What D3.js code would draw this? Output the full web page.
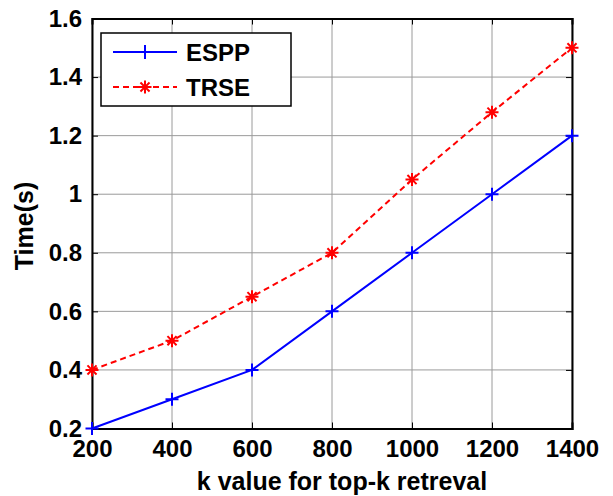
<!DOCTYPE html>
<html>
<head>
<meta charset="utf-8">
<script src="https://cdn.jsdelivr.net/npm/d3@7"></script>
<style>
  body { margin: 0; background: #fff; }
  text { font-family: "Liberation Sans", Arial, sans-serif; font-weight: bold; }
</style>
</head>
<body>
<div id="chart"></div>
<script>
// data
const kValues = [200, 400, 600, 800, 1000, 1200, 1400]
const esppTime = [0.2, 0.3, 0.4, 0.6, 0.8, 1.0, 1.2]
const trseTime = [0.4, 0.5, 0.65, 0.8, 1.05, 1.28, 1.5]
const yTicks = [0.2, 0.4, 0.6, 0.8, 1, 1.2, 1.4, 1.6]
const seriesNames = ['ESPP', 'TRSE']

const W = 613, H = 496
const m = {left: 92, right: 41, top: 18.5, bottom: 67.5}
const w = W - m.left - m.right
const h = H - m.top - m.bottom

const svg = d3.select('#chart')
    .append('svg')
    .attr('width', W)
    .attr('height', H)

const g = svg.append('g')
    .attr('transform', `translate(${m.left}, ${m.top})`)

// Scales
const x = d3.scaleLinear().domain([200, 1400]).range([0, w])
const y = d3.scaleLinear().domain([0.2, 1.6]).range([h, 0])

// Grid
g.append('g').selectAll('line')
    .data(kValues)
    .enter().append('line')
    .attr('x1', d => x(d)).attr('x2', d => x(d))
    .attr('y1', 0).attr('y2', h)
    .attr('stroke', '#9a9a9a').attr('stroke-width', 1)

g.append('g').selectAll('line')
    .data(yTicks)
    .enter().append('line')
    .attr('y1', d => y(d)).attr('y2', d => y(d))
    .attr('x1', 0).attr('x2', w)
    .attr('stroke', '#9a9a9a').attr('stroke-width', 1)

// Axes (inside ticks, box)
const tick = 6
const xAxis = d3.axisBottom(x).tickValues(kValues).tickSize(-tick).tickPadding(11.5).tickFormat(d3.format('d'))
const yAxis = d3.axisLeft(y).tickValues(yTicks).tickSize(-tick).tickPadding(10).tickFormat(d => +d)

const xg = g.append('g').attr('transform', `translate(0, ${h})`).call(xAxis)
const yg = g.append('g').call(yAxis)
const xt = g.append('g').call(d3.axisTop(x).tickValues(kValues).tickSize(-tick).tickFormat(''))
const yr = g.append('g').attr('transform', `translate(${w}, 0)`).call(d3.axisRight(y).tickValues(yTicks).tickSize(-tick).tickFormat(''))

;[xg, yg, xt, yr].forEach(a => {
    a.select('.domain').attr('stroke', '#000').attr('stroke-width', 2)
    a.selectAll('.tick line').attr('stroke', '#000').attr('stroke-width', 1)
    a.selectAll('.tick text').attr('fill', '#000').attr('font-size', '24px')
})

// Lines
const line = d3.line().x((d, i) => x(kValues[i])).y(d => y(d))

g.append('path')
    .datum(esppTime)
    .attr('fill', 'none')
    .attr('stroke', '#0000ff')
    .attr('stroke-width', 2)
    .attr('d', line)

g.append('path')
    .datum(trseTime)
    .attr('fill', 'none')
    .attr('stroke', '#ff0000')
    .attr('stroke-width', 2)
    .attr('stroke-dasharray', '6,4')
    .attr('d', line)

// Markers
function plus(sel, cx, cy, s) {
    sel.append('path')
        .attr('d', `M${cx - s},${cy}H${cx + s}M${cx},${cy - s}V${cy + s}`)
        .attr('stroke', '#0000ff').attr('stroke-width', 2).attr('fill', 'none')
}
function star(sel, cx, cy, s) {
    const d = s * 0.7
    sel.append('path')
        .attr('d', `M${cx - s},${cy}H${cx + s}M${cx},${cy - s}V${cy + s}` +
                   `M${cx - d},${cy - d}L${cx + d},${cy + d}M${cx - d},${cy + d}L${cx + d},${cy - d}`)
        .attr('stroke', '#ff0000').attr('stroke-width', 2).attr('fill', 'none')
}

const mk = g.append('g')
esppTime.forEach((v, i) => plus(mk, x(kValues[i]), y(v), 6.5))
trseTime.forEach((v, i) => star(mk, x(kValues[i]), y(v), 6.5))

// Axis labels
svg.append('text')
    .attr('x', 342)
    .attr('y', 490)
    .attr('text-anchor', 'middle')
    .attr('font-size', '25px')
    .text('k value for top-k retreval')

svg.append('text')
    .attr('transform', 'rotate(-90)')
    .attr('x', -226)
    .attr('y', 33)
    .attr('text-anchor', 'middle')
    .attr('font-size', '25px')
    .text('Time(s)')

// Legend
const lg = svg.append('g').attr('transform', 'translate(101, 33)')
lg.append('rect')
    .attr('width', 190).attr('height', 73)
    .attr('fill', '#fff').attr('stroke', '#000').attr('stroke-width', 1.5)

lg.append('line').attr('x1', 12).attr('x2', 76).attr('y1', 19).attr('y2', 19)
    .attr('stroke', '#0000ff').attr('stroke-width', 2)
plus(lg, 44, 19, 7)
lg.append('line').attr('x1', 12).attr('x2', 76).attr('y1', 54).attr('y2', 54)
    .attr('stroke', '#ff0000').attr('stroke-width', 2).attr('stroke-dasharray', '6,4')
star(lg, 44, 54, 6.5)

lg.selectAll('text.leg')
    .data(seriesNames)
    .enter().append('text')
    .attr('class', 'leg')
    .attr('x', 85)
    .attr('y', (d, i) => 28 + i * 35)
    .attr('font-size', '24px')
    .text(d => d)
</script>
</body>
</html>
